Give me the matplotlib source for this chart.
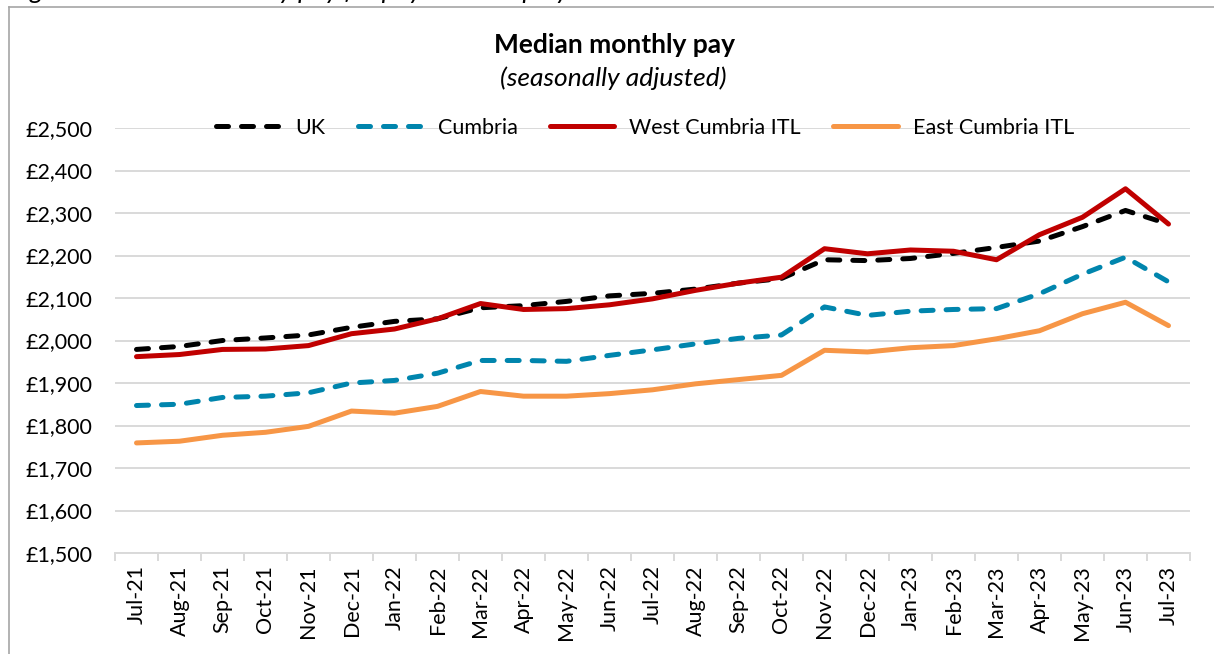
import matplotlib
matplotlib.use('Agg')
import matplotlib.pyplot as plt
from matplotlib.ticker import FuncFormatter, FixedLocator
import numpy as np

# median monthly pay, seasonally adjusted
months = ['Jul-21', 'Aug-21', 'Sep-21', 'Oct-21', 'Nov-21', 'Dec-21', 'Jan-22', 'Feb-22',
          'Mar-22', 'Apr-22', 'May-22', 'Jun-22', 'Jul-22', 'Aug-22', 'Sep-22', 'Oct-22',
          'Nov-22', 'Dec-22', 'Jan-23', 'Feb-23', 'Mar-23', 'Apr-23', 'May-23', 'Jun-23', 'Jul-23']
uk = [1979, 1986, 2000, 2006, 2013, 2031, 2045, 2051, 2077, 2082, 2092, 2105, 2111,
      2121, 2135, 2146, 2190, 2188, 2193, 2205, 2219, 2234, 2268, 2306, 2274]
cumbria = [1847, 1850, 1866, 1869, 1877, 1900, 1906, 1923, 1953, 1953, 1951, 1965, 1978,
           1992, 2005, 2013, 2079, 2059, 2069, 2073, 2075, 2110, 2156, 2196, 2138]
west = [1962, 1967, 1979, 1980, 1988, 2016, 2027, 2051, 2087, 2073, 2075, 2084, 2098,
        2118, 2135, 2149, 2216, 2204, 2213, 2210, 2190, 2249, 2290, 2357, 2274]
east = [1759, 1763, 1777, 1784, 1798, 1834, 1829, 1845, 1880, 1869, 1869, 1875, 1884,
        1898, 1908, 1918, 1977, 1973, 1983, 1988, 2004, 2023, 2063, 2090, 2035]

plt.rcParams['font.family'] = ['Lato', 'DejaVu Sans']

fig = plt.figure(figsize=(12.14, 6.54), dpi=100)
ax = fig.add_axes([115 / 1214, 1 - 553 / 654, 1075 / 1214, 425 / 654])

x = np.arange(len(months))
lw = 3.6
ax.plot(x, uk, color='black', lw=lw, dashes=(2.4, 2.6), dash_capstyle='round', label='UK')
ax.plot(x, cumbria, color='#0085AD', lw=lw, dashes=(2.4, 2.6), dash_capstyle='round', label='Cumbria')
ax.plot(x, west, color='#C00000', lw=lw, solid_capstyle='round', label='West Cumbria ITL')
ax.plot(x, east, color='#F79646', lw=lw, solid_capstyle='round', label='East Cumbria ITL')

ax.set_xlim(-0.5, len(months) - 0.5)
ax.set_ylim(1500, 2500)
ax.set_yticks(np.arange(1500, 2501, 100))
ax.yaxis.set_major_formatter(FuncFormatter(lambda v, p: '£{:,.0f}'.format(v)))
ax.set_xticks(x)
ax.set_xticklabels(months, rotation=90)
ax.xaxis.set_minor_locator(FixedLocator(np.arange(-0.5, len(months), 1)))

ax.grid(axis='y', color='#D9D9D9', lw=1.4)
ax.set_axisbelow(True)
for s in ['left', 'right', 'top']:
    ax.spines[s].set_visible(False)
ax.spines['bottom'].set_color('#D9D9D9')
ax.spines['bottom'].set_linewidth(1.4)

ax.tick_params(axis='y', length=0, pad=16, labelsize=15.5)
ax.tick_params(axis='x', which='major', length=0, pad=9, labelsize=15.5)
ax.tick_params(axis='x', which='minor', length=6, width=1.4, color='#D9D9D9')

leg = ax.legend(loc='center', bbox_to_anchor=(0.493, 1.0), ncol=4, frameon=False,
                fontsize=15.5, handlelength=3.0, handletextpad=0.7, columnspacing=1.5)

fig.text(0.506, 1 - 45 / 654, 'Median monthly pay', ha='center', va='center',
         fontsize=19, fontweight='bold')
fig.text(0.505, 1 - 78 / 654, '(seasonally adjusted)', ha='center', va='center',
         fontsize=19, fontstyle='italic')

# caption cut off at the top of the image
fig.text(10 / 1214, 1 + 1 / 654, 'Figure 5: Median monthly pay for payrolled employees',
         ha='left', va='baseline', fontsize=19, fontstyle='italic')

# outer chart border (left and top edges visible)
fig.add_artist(plt.Line2D([9 / 1214, 9 / 1214], [0, 1 - 7 / 654], color='#A6A6A6', lw=1.2,
                          transform=fig.transFigure))
fig.add_artist(plt.Line2D([9 / 1214, 1], [1 - 7 / 654, 1 - 7 / 654], color='#A6A6A6', lw=1.2,
                          transform=fig.transFigure))

fig.savefig('out.png', dpi=100)
